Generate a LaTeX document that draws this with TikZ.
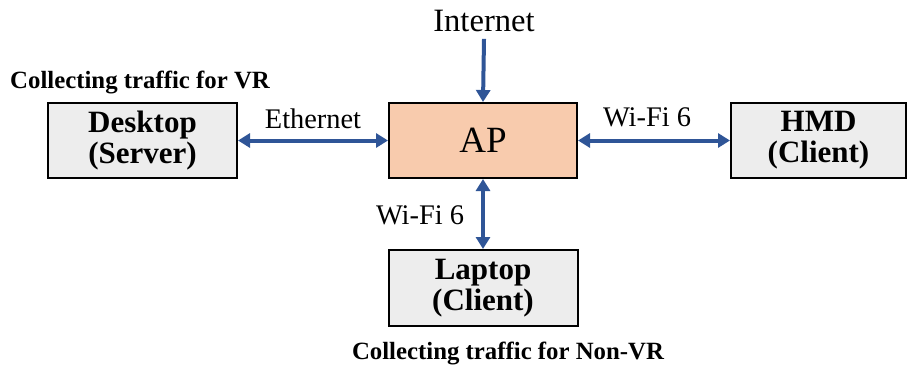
\documentclass[tikz,border=0pt]{standalone}
\usepackage{fontspec}
\setmainfont{Liberation Serif}
\usetikzlibrary{arrows.meta}
\definecolor{apfill}{HTML}{F8CBAD}
\definecolor{boxgray}{HTML}{EDEDED}
\definecolor{linkblue}{HTML}{2F5597}

\begin{document}
\begin{tikzpicture}[
    x=0.5pt,y=-0.5pt,
    dev/.style={draw=black,line width=1pt,fill=boxgray,minimum width=94.5pt,minimum height=37.5pt,
      align=center,font=\fontsize{15.5}{15.5}\selectfont\bfseries},
    hub/.style={draw=black,line width=1pt,fill=apfill,minimum width=94pt,minimum height=37.5pt,
      font=\fontsize{18.5}{20}\selectfont},
    lbl/.style={font=\fontsize{14.2}{16}\selectfont},
    note/.style={font=\fontsize{12.4}{14}\selectfont\bfseries},
    link/.style={{Triangle[length=6pt,width=7pt]}-{Triangle[length=6pt,width=7pt]},line width=2pt,linkblue},
    feed/.style={-{Triangle[length=6pt,width=7pt]},line width=2pt,linkblue}
  ]
    \useasboundingbox (0,0) rectangle (908,365);
    \node[hub] (ap) at (483,140.5) {AP};
    \node[dev] (desk) at (142.5,140.5) {Desktop\\(Server)};
    \node[dev,minimum width=87.5pt] (hmd) at (818.5,140.5) {HMD\\(Client)};
    \node[dev,minimum height=38pt] (lap) at (483,288) {Laptop\\(Client)};
    \node[font=\fontsize{16.3}{18}\selectfont] (inet) at (484,21) {Internet};
    \draw[feed] (inet.south) -- (ap.north);
    \draw[link] (desk.east) -- (ap.west);
    \draw[link] (ap.east) -- (hmd.west);
    \draw[link] (ap.south) -- (lap.north);
    \node[lbl] (eth) at (313,119) {Ethernet};
    \node[lbl] (wifi1) at (647,117) {Wi-Fi 6};
    \node[lbl] (wifi2) at (420,215) {Wi-Fi 6};
    \node[note] (vr) at (140,83) {Collecting traffic for VR};
    \node[note] (nonvr) at (508,353) {Collecting traffic for Non-VR};
  \end{tikzpicture}
\end{document}
